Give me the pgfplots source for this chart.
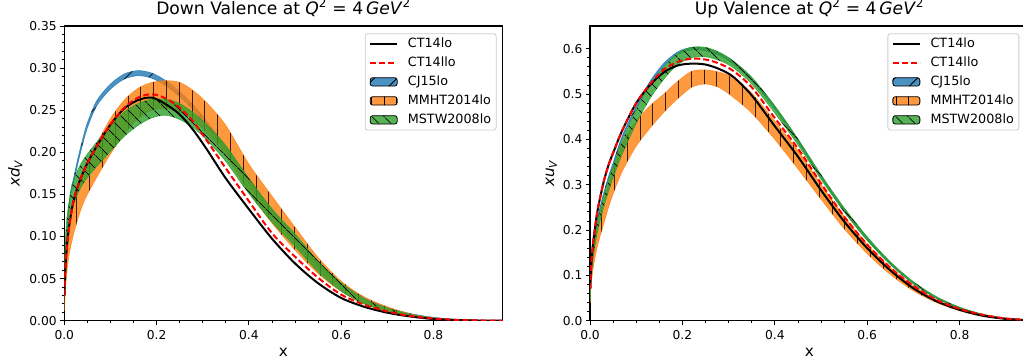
\documentclass[border=0pt]{standalone}
\usepackage{fontspec}
\setmainfont{DejaVu Sans}
\usepackage{pgfplots}
\usepackage{pgfplotstable}
\pgfplotsset{compat=1.18}
\usepgfplotslibrary{fillbetween}
\usetikzlibrary{patterns.meta}

\definecolor{tabblue}{RGB}{31,119,180}
\definecolor{taborange}{RGB}{255,127,14}
\definecolor{tabgreen}{RGB}{44,160,44}

\newcommand{\tickfont}{\fontsize{12.3}{14}\selectfont}
\newcommand{\legfont}{\fontsize{12.8}{15}\selectfont}
\newcommand{\titfont}{\fontsize{17.2}{20}\selectfont}
\newcommand{\labfont}{\fontsize{15.3}{18}\selectfont}

\tikzset{
  hatchA/.style={postaction={fill opacity=1, draw=none, pattern={Lines[angle=45,distance=16bp,line width=0.9bp]}, pattern color=black}},
  hatchB/.style={postaction={fill opacity=1, draw=none, pattern={Lines[angle=90,distance=12.8bp,line width=0.9bp]}, pattern color=black}},
  hatchC/.style={postaction={fill opacity=1, draw=none, pattern={Lines[angle=-45,distance=9.5bp,line width=0.9bp]}, pattern color=black}},
}

\pgfplotsset{
  linelegend/.style={legend image code/.code={\draw[##1] (0bp,0bp) -- (27bp,0bp);}},
  arealegend/.style={legend image code/.code={\draw[##1] (0bp,-4.2bp) rectangle (27bp,4.2bp);}},
  base/.style={
    scale only axis, height=294.7bp,
    xmin=0, xmax=0.95, ymin=0,
    axis line style={line width=1.4bp},
    tick style={black, line width=0.8bp},
    major tick length=4.5bp, minor tick length=2.6bp,
    tick align=outside, tick pos=left,
    xtick={0,0.2,0.4,0.6,0.8}, minor x tick num=3,
    minor y tick num=4,
    /pgf/number format/assume math mode=true,
    ticklabel style={font=\tickfont},
    xticklabel style={anchor=north, inner sep=0pt, yshift=-4.8bp, /pgf/number format/fixed, /pgf/number format/fixed zerofill, /pgf/number format/precision=1},
    title style={at={(axis description cs:0.5,1)}, anchor=base, yshift=6bp, font=\titfont},
    xlabel={x},
    xlabel style={at={(axis description cs:0.5,0)}, anchor=base, yshift=-36bp, font=\labfont},
    legend cell align=left,
    legend style={draw=black!20, line width=0.8bp, rounded corners=2.5bp, fill=white,
      font=\legfont, inner xsep=4bp, inner ysep=3bp,
      nodes={inner sep=1bp, text height=9.5bp, text depth=2.7bp},
      row sep=4.8bp, anchor=north east},
    /tikz/every odd column/.append style={column sep=8.7bp},
  }
}

\pgfplotstableread{
x      ct     ctl    cjl    cjh    mml    mmh    msl    msh
0.0005 0.030  0.030  0.040  0.046  0.012  0.028  0.045  0.062
0.001  0.042  0.042  0.052  0.058  0.022  0.042  0.060  0.078
0.003  0.068  0.068  0.078  0.084  0.042  0.068  0.083  0.103
0.006  0.090  0.090  0.106  0.112  0.060  0.090  0.100  0.124
0.010  0.110  0.110  0.132  0.138  0.077  0.108  0.115  0.140
0.015  0.128  0.128  0.152  0.158  0.091  0.125  0.128  0.155
0.020  0.142  0.142  0.163  0.169  0.103  0.138  0.138  0.166
0.030  0.161  0.161  0.188  0.194  0.122  0.158  0.152  0.180
0.040  0.175  0.175  0.210  0.216  0.138  0.176  0.162  0.190
0.050  0.187  0.187  0.229  0.235  0.150  0.189  0.170  0.198
0.070  0.207  0.207  0.255  0.261  0.170  0.210  0.183  0.212
0.100  0.233  0.233  0.275  0.281  0.198  0.240  0.201  0.232
0.130  0.252  0.253  0.287  0.293  0.222  0.262  0.219  0.248
0.160  0.262  0.265  0.291  0.297  0.240  0.276  0.232  0.258
0.190  0.265  0.269  0.288  0.294  0.250  0.283  0.241  0.263
0.220  0.257  0.264  0.279  0.285  0.252  0.285  0.244  0.263
0.250  0.245  0.253  0.266  0.272  0.248  0.283  0.239  0.258
0.280  0.226  0.236  0.250  0.256  0.238  0.273  0.229  0.247
0.310  0.2025 0.2130 0.230  0.236  0.222  0.258  0.214  0.232
0.350  0.169  0.181  0.201  0.207  0.196  0.232  0.189  0.208
0.400  0.1325 0.142  0.163  0.169  0.153  0.186  0.151  0.169
0.450  0.0975 0.104  0.126  0.132  0.116  0.148  0.117  0.133
0.500  0.068  0.076  0.093  0.099  0.084  0.111  0.088  0.103
0.550  0.0445 0.051  0.064  0.069  0.056  0.075  0.058  0.071
0.600  0.027  0.031  0.041  0.045  0.035  0.047  0.035  0.045
0.650  0.0165 0.019  0.025  0.028  0.020  0.028  0.020  0.026
0.700  0.0095 0.011  0.014  0.016  0.011  0.0165 0.011  0.015
0.750  0.005  0.0055 0.0075 0.0085 0.005  0.008  0.005  0.0075
0.800  0.002  0.0025 0.0035 0.004  0.002  0.0035 0.002  0.0033
0.850  0.0008 0.001  0.0013 0.0016 0.0007 0.0014 0.0007 0.0012
0.900  0.0002 0.0003 0.0004 0.0005 0.0002 0.0004 0.0002 0.0003
0.950  0.0    0.0    0.0    0.0001 0.0    0.0001 0.0    0.0001
}\Ld

\pgfplotstableread{
x      ct     ctl    cjl    cjh    mml    mmh    msl    msh
0.0005 0.070  0.070  0.057  0.063  0.040  0.055  0.045  0.058
0.001  0.090  0.090  0.077  0.083  0.055  0.075  0.062  0.076
0.003  0.128  0.128  0.112  0.118  0.085  0.110  0.098  0.113
0.006  0.165  0.165  0.147  0.153  0.110  0.140  0.132  0.148
0.010  0.198  0.198  0.177  0.183  0.135  0.170  0.160  0.178
0.015  0.235  0.235  0.212  0.218  0.160  0.200  0.190  0.210
0.020  0.262  0.262  0.237  0.243  0.180  0.225  0.213  0.235
0.030  0.308  0.308  0.277  0.283  0.215  0.265  0.252  0.275
0.040  0.343  0.343  0.312  0.318  0.250  0.300  0.285  0.310
0.050  0.370  0.370  0.342  0.348  0.280  0.335  0.315  0.340
0.070  0.420  0.420  0.402  0.408  0.330  0.392  0.368  0.398
0.100  0.480  0.480  0.467  0.473  0.385  0.440  0.435  0.465
0.130  0.520  0.522  0.522  0.528  0.425  0.474  0.490  0.520
0.160  0.548  0.554  0.562  0.568  0.460  0.500  0.533  0.560
0.190  0.563  0.571  0.587  0.593  0.490  0.528  0.565  0.590
0.220  0.567  0.578  0.597  0.603  0.515  0.550  0.580  0.603
0.250  0.565  0.576  0.595  0.601  0.522  0.553  0.582  0.603
0.280  0.555  0.567  0.585  0.591  0.514  0.548  0.574  0.592
0.310  0.538  0.551  0.566  0.572  0.493  0.536  0.558  0.573
0.350  0.497  0.515  0.530  0.536  0.458  0.502  0.522  0.537
0.400  0.429  0.447  0.467  0.473  0.400  0.440  0.458  0.474
0.450  0.362  0.380  0.394  0.400  0.335  0.375  0.388  0.401
0.500  0.288  0.303  0.315  0.321  0.268  0.300  0.312  0.322
0.550  0.219  0.230  0.242  0.248  0.203  0.230  0.240  0.249
0.600  0.160  0.168  0.178  0.184  0.148  0.168  0.177  0.185
0.650  0.111  0.117  0.124  0.129  0.102  0.117  0.124  0.130
0.700  0.0715 0.077  0.081  0.085  0.066  0.077  0.082  0.086
0.750  0.043  0.046  0.049  0.052  0.040  0.046  0.050  0.053
0.800  0.024  0.026  0.027  0.029  0.022  0.026  0.028  0.030
0.850  0.011  0.013  0.013  0.014  0.010  0.013  0.013  0.0145
0.900  0.004  0.005  0.005  0.0055 0.004  0.005  0.005  0.0055
0.950  0.001  0.0015 0.0015 0.0017 0.001  0.0015 0.0015 0.0017
}\Rd

\begin{document}
\begin{tikzpicture}
% ---------------- Left: down valence ----------------
\begin{axis}[base,
  at={(64.3bp,41.3bp)}, anchor=south west, width=438.4bp,
  ymax=0.35, ytick={0,0.05,0.10,0.15,0.20,0.25,0.30,0.35},
  yticklabel style={anchor=east, inner sep=0pt, xshift=-3bp, /pgf/number format/fixed, /pgf/number format/fixed zerofill, /pgf/number format/precision=2},
  title={Down Valence at \textit{Q}\textsuperscript{2} = 4\,\textit{GeV}\textsuperscript{2}},
  ylabel={\textit{xd}\textsubscript{\textit{V}}},
  ylabel style={at={(axis description cs:-0.102,0.5)}, anchor=base, font=\labfont},
  legend style={at={(rel axis cs:0.986,0.975)}},
]
\addlegendimage{linelegend, black, line width=2bp}
\addlegendentry{CT14lo}
\addlegendimage{linelegend, red, line width=2bp, dash pattern=on 6bp off 3bp}
\addlegendentry{CT14llo}
\addlegendimage{arealegend, fill=tabblue, fill opacity=0.8, draw=none, hatchA}
\addlegendentry{CJ15lo}
\addlegendimage{arealegend, fill=taborange, fill opacity=0.8, draw=none, hatchB}
\addlegendentry{MMHT2014lo}
\addlegendimage{arealegend, fill=tabgreen, fill opacity=0.8, draw=none, hatchC}
\addlegendentry{MSTW2008lo}

\addplot[draw=none, name path=aL, smooth, forget plot] table[x=x, y=cjl]{\Ld};
\addplot[draw=none, name path=aU, smooth, forget plot] table[x=x, y=cjh]{\Ld};
\addplot[fill=tabblue, fill opacity=0.8, draw=tabblue, draw opacity=0.8, line width=0.6bp, hatchA, forget plot] fill between[of=aL and aU];

\addplot[draw=none, name path=bL, smooth, forget plot] table[x=x, y=mml]{\Ld};
\addplot[draw=none, name path=bU, smooth, forget plot] table[x=x, y=mmh]{\Ld};
\addplot[fill=taborange, fill opacity=0.8, draw=taborange, draw opacity=0.8, line width=0.6bp, hatchB, forget plot] fill between[of=bL and bU];

\addplot[draw=none, name path=cL, smooth, forget plot] table[x=x, y=msl]{\Ld};
\addplot[draw=none, name path=cU, smooth, forget plot] table[x=x, y=msh]{\Ld};
\addplot[fill=tabgreen, fill opacity=0.8, draw=tabgreen, draw opacity=0.8, line width=0.6bp, hatchC, forget plot] fill between[of=cL and cU];

\addplot[black, line width=2bp, smooth, forget plot] table[x=x, y=ct]{\Ld};
\addplot[red, line width=2bp, dash pattern=on 6bp off 3bp, smooth, forget plot] table[x=x, y=ctl]{\Ld};
\end{axis}

% ---------------- Right: up valence ----------------
\begin{axis}[base,
  at={(590bp,41.3bp)}, anchor=south west, width=438.9bp,
  ymax=0.65, ytick={0,0.1,0.2,0.3,0.4,0.5,0.6},
  yticklabel style={anchor=east, inner sep=0pt, xshift=-3bp, /pgf/number format/fixed, /pgf/number format/fixed zerofill, /pgf/number format/precision=1},
  title={Up Valence at \textit{Q}\textsuperscript{2} = 4\,\textit{GeV}\textsuperscript{2}},
  ylabel={\textit{xu}\textsubscript{\textit{V}}},
  ylabel style={at={(axis description cs:-0.082,0.5)}, anchor=base, font=\labfont},
  legend style={at={(rel axis cs:0.978,0.975)}},
]
\addlegendimage{linelegend, black, line width=2bp}
\addlegendentry{CT14lo}
\addlegendimage{linelegend, red, line width=2bp, dash pattern=on 6bp off 3bp}
\addlegendentry{CT14llo}
\addlegendimage{arealegend, fill=tabblue, fill opacity=0.8, draw=none, hatchA}
\addlegendentry{CJ15lo}
\addlegendimage{arealegend, fill=taborange, fill opacity=0.8, draw=none, hatchB}
\addlegendentry{MMHT2014lo}
\addlegendimage{arealegend, fill=tabgreen, fill opacity=0.8, draw=none, hatchC}
\addlegendentry{MSTW2008lo}

\addplot[draw=none, name path=dL, smooth, forget plot] table[x=x, y=cjl]{\Rd};
\addplot[draw=none, name path=dU, smooth, forget plot] table[x=x, y=cjh]{\Rd};
\addplot[fill=tabblue, fill opacity=0.8, draw=tabblue, draw opacity=0.8, line width=0.6bp, hatchA, forget plot] fill between[of=dL and dU];

\addplot[draw=none, name path=eL, smooth, forget plot] table[x=x, y=mml]{\Rd};
\addplot[draw=none, name path=eU, smooth, forget plot] table[x=x, y=mmh]{\Rd};
\addplot[fill=taborange, fill opacity=0.8, draw=taborange, draw opacity=0.8, line width=0.6bp, hatchB, forget plot] fill between[of=eL and eU];

\addplot[draw=none, name path=fL, smooth, forget plot] table[x=x, y=msl]{\Rd};
\addplot[draw=none, name path=fU, smooth, forget plot] table[x=x, y=msh]{\Rd};
\addplot[fill=tabgreen, fill opacity=0.8, draw=tabgreen, draw opacity=0.8, line width=0.6bp, hatchC, forget plot] fill between[of=fL and fU];

\addplot[black, line width=2bp, smooth, forget plot] table[x=x, y=ct]{\Rd};
\addplot[red, line width=2bp, dash pattern=on 6bp off 3bp, smooth, forget plot] table[x=x, y=ctl]{\Rd};
\end{axis}

\pgfresetboundingbox
\useasboundingbox (0bp,0bp) rectangle (1023bp,362bp);
\end{tikzpicture}
\end{document}
